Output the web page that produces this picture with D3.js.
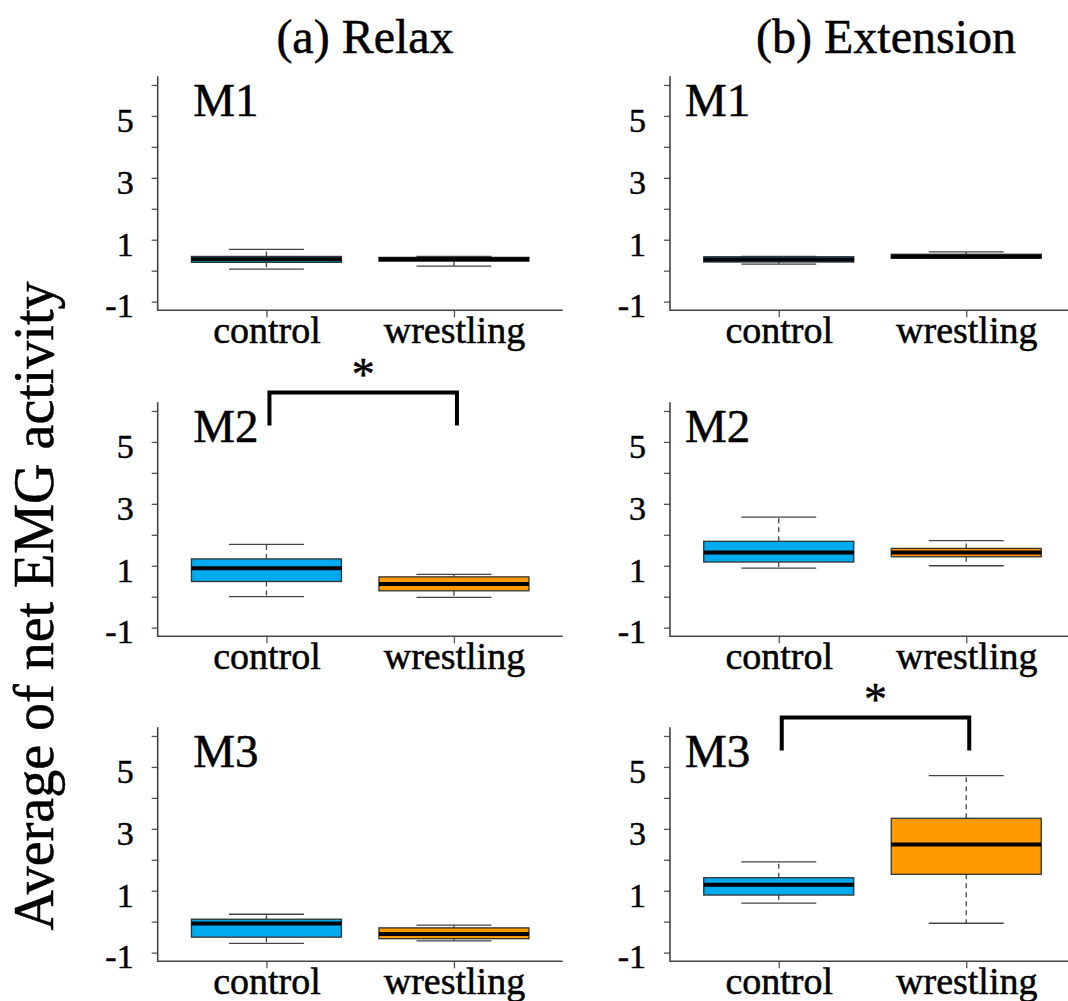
<!DOCTYPE html>
<html>
<head>
<meta charset="utf-8">
<script src="https://cdn.jsdelivr.net/npm/d3@7"></script>
<style>
  body { margin: 0; background: #fff; }
  svg { display: block; font-family: "Liberation Serif", "Times New Roman", serif; }
  svg text { stroke: #000; stroke-width: 0.5px; }
</style>
</head>
<body>
<svg id="chart"></svg>
<script>
// groups, panels and tick labels
const groups = ["control", "wrestling"];
const muscles = ["M1", "M2", "M3"];
const conditions = ["(a) Relax", "(b) Extension"];
const yTicks = [-1, 0, 1, 2, 3, 4, 5, 6];

// box stats per muscle: [min, q1, median, q3, max] for control, wrestling
const relaxM1 = [[0.05, 0.27, 0.37, 0.46, 0.69], [0.15, 0.31, 0.37, 0.43, 0.46]];
const relaxM2 = [[0.00, 0.49, 0.92, 1.22, 1.69], [-0.02, 0.19, 0.41, 0.64, 0.72]];
const relaxM3 = [[-0.70, -0.50, -0.06, 0.08, 0.24], [-0.62, -0.55, -0.40, -0.20, -0.11]];
const extensionM1 = [[0.21, 0.28, 0.36, 0.45, 0.46], [0.40, 0.40, 0.46, 0.53, 0.61]];
const extensionM2 = [[0.92, 1.12, 1.43, 1.79, 2.57], [1.00, 1.29, 1.43, 1.56, 1.81]];
const extensionM3 = [[0.60, 0.86, 1.19, 1.42, 1.93], [-0.05, 1.53, 2.49, 3.34, 4.72]];

// significant pairs: [condition index, muscle index]
const significant = [[0, 1], [1, 2]];

const stats = [[relaxM1, relaxM2, relaxM3], [extensionM1, extensionM2, extensionM3]];
const colors = ["#00aaee", "#ff9900"];

const W = 1068, H = 1001;
const svg = d3.select("#chart").attr("width", W).attr("height", H);
svg.append("rect").attr("width", W).attr("height", H).attr("fill", "#fff");

// layout
const colX = [157.7, 670];
const rowTop = [76.3, 402.3, 727.3];
const plotW = 405, plotH = 234;
const labelOffset = [0.39, 0.5];   // panel label left of "control", in category steps
const titleX = [365, 886];

conditions.forEach((cond, c) => {
  svg.append("text")
    .attr("x", titleX[c])
    .attr("y", 53)
    .attr("text-anchor", "middle")
    .style("font-size", "48px")
    .text(cond);

  muscles.forEach((m, r) => {
    const x0 = colX[c], top = rowTop[r], bottom = top + plotH;
    const x = d3.scalePoint().domain(groups).range([x0, x0 + plotW]).padding(0.58);
    const y = d3.scaleLinear().domain([-1.28, 6.28]).range([bottom, top]);
    const step = x.step();
    const g = svg.append("g");

    // y axis
    const ya = g.append("g")
      .attr("transform", `translate(${x0},0)`)
      .call(d3.axisLeft(y).tickValues(yTicks).tickSize(6).tickPadding(18)
        .tickFormat(d => d % 2 ? String(d) : ""));
    ya.select(".domain").remove();
    ya.attr("font-family", null).attr("font-size", null);
    ya.selectAll("line").attr("stroke", "#555").attr("stroke-width", 1.3);
    ya.selectAll("text").attr("dy", "0.45em").attr("fill", "#000")
      .style("font-size", "34px");

    // x axis
    const xa = g.append("g")
      .attr("transform", `translate(0,${bottom})`)
      .call(d3.axisBottom(x).tickSize(7));
    xa.select(".domain").remove();
    xa.attr("font-family", null).attr("font-size", null);
    xa.selectAll("line").attr("stroke", "#555").attr("stroke-width", 1.3);
    xa.selectAll("text").attr("y", 33).attr("dy", 0).attr("fill", "#000")
      .style("font-size", "38px");

    // L-shaped frame
    g.append("path")
      .attr("d", `M${x0},${top}V${bottom}H${x0 + plotW}`)
      .attr("fill", "none").attr("stroke", "#444").attr("stroke-width", 1.6);

    // boxes
    const boxW = step * 0.8;
    const data = stats[c][r];
    groups.forEach((grp, i) => {
      const s = data[i];
      const cx = x(grp);
      const bg = g.append("g");
      [[s[3], s[4]], [s[1], s[0]]].forEach(([a, b]) => {
        bg.append("line")
          .attr("x1", cx).attr("x2", cx)
          .attr("y1", y(a)).attr("y2", y(b))
          .attr("stroke", "#444").attr("stroke-width", 1.3)
          .attr("stroke-dasharray", "5,4");
        bg.append("line")
          .attr("x1", cx - boxW / 4).attr("x2", cx + boxW / 4)
          .attr("y1", y(b)).attr("y2", y(b))
          .attr("stroke", "#444").attr("stroke-width", 1.3);
      });
      bg.append("rect")
        .attr("x", cx - boxW / 2)
        .attr("y", y(s[3]))
        .attr("width", boxW)
        .attr("height", Math.max(1, y(s[1]) - y(s[3])))
        .attr("fill", colors[i])
        .attr("stroke", "#333").attr("stroke-width", 1.3);
      bg.append("line")
        .attr("x1", cx - boxW / 2).attr("x2", cx + boxW / 2)
        .attr("y1", y(s[2])).attr("y2", y(s[2]))
        .attr("stroke", "#000").attr("stroke-width", 4);
    });

    // panel label
    g.append("text")
      .attr("x", x("control") - labelOffset[c] * step)
      .attr("y", y(5))
      .style("font-size", "47px")
      .text(m);

    // significance bracket
    if (significant.some(([sc, sr]) => sc === c && sr === r)) {
      const xa1 = x(groups[0]) + 3, xa2 = x(groups[1]) + 3;
      g.append("path")
        .attr("d", `M${xa1},${y(5.53)}V${y(6.6)}H${xa2}V${y(5.53)}`)
        .attr("fill", "none").attr("stroke", "#000").attr("stroke-width", 4)
        .attr("stroke-linejoin", "miter");
      g.append("text")
        .attr("x", (xa1 + xa2) / 2)
        .attr("y", y(7.4))
        .attr("dy", "0.48em")
        .attr("text-anchor", "middle")
        .style("font-size", "46px")
        .text("*");
    }
  });
});

// y axis title
svg.append("text")
  .attr("transform", "translate(53,606) rotate(-90)")
  .attr("text-anchor", "middle")
  .style("font-size", "56px")
  .text("Average of net EMG activity");
</script>
</body>
</html>
